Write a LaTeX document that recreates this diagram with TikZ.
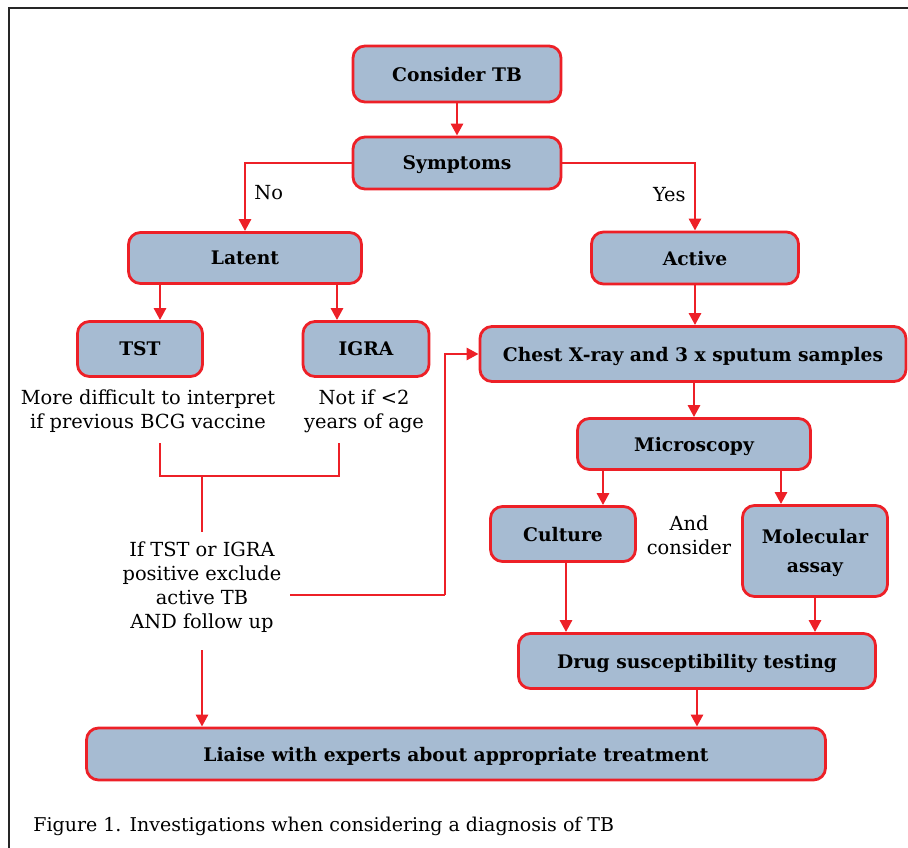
\documentclass[tikz,border=0pt]{standalone}
\usepackage{fontspec}
\setmainfont{DejaVu Serif}
\usepackage{xcolor}
\usepackage{tikz}
\usetikzlibrary{arrows.meta}

\definecolor{tbblue}{RGB}{166,187,210}
\definecolor{tbred}{RGB}{237,32,39}

\begin{document}
\begin{tikzpicture}[->,>={Triangle[length=12pt,width=12pt]},x=1pt,y=-1pt,
                    draw=tbred,line width=2.8pt]

                \tikzset{box/.style={draw=tbred, fill=tbblue, line width=2.8pt, rounded corners=12pt,
                                     inner sep=0pt, text depth=0pt, align=center,
                                     font=\bfseries\fontsize{18.7}{29}\selectfont}}
                \tikzset{note/.style={align=center, inner sep=2pt, font=\fontsize{19.4}{24}\selectfont}}

                \useasboundingbox (0,0) rectangle (908,848);
                \draw[-, draw=black!85, line width=2pt] (9,848) -- (9,8) -- (908,8);

                % boxes
                \node[box, minimum width=208pt, minimum height=56pt] (start) at (457,74) {Consider TB};
                \node[box, minimum width=208pt, minimum height=52pt] (symp) at (457,163) {Symptoms};
                \node[box, minimum width=233pt, minimum height=51pt] (latent) at (245,258) {Latent};
                \node[box, minimum width=207pt, minimum height=52pt] (active) at (695,258) {Active};
                \node[box, minimum width=125pt, minimum height=55pt] (tst) at (140,349) {TST};
                \node[box, minimum width=126pt, minimum height=55pt] (igra) at (366,349) {IGRA};
                \node[box, minimum width=426pt, minimum height=55pt] (xray) at (693,354) {Chest X-ray and 3 x sputum samples};
                \node[box, minimum width=233pt, minimum height=51pt] (micro) at (694,444) {Microscopy};
                \node[box, minimum width=145pt, minimum height=55pt] (culture) at (563,534) {Culture};
                \node[box, minimum width=145pt, minimum height=91pt] (molec) at (815,551) {Molecular\\assay};
                \node[box, minimum width=357pt, minimum height=55pt] (drug) at (697,661) {Drug susceptibility testing};
                \node[box, minimum width=739pt, minimum height=52pt] (liaise) at (456,754) {Liaise with experts about appropriate treatment};

                % notes
                \node[note] (tstnote) at (148,411) {More difficult to interpret\\if previous BCG vaccine};
                \node[note] (igranote) at (364,411) {Not if <2\\years of age};
                \node[note] (posnote) at (202,587) {If TST or IGRA\\positive exclude\\active TB\\AND follow up};
                \node[note] (andnote) at (689,535) {And\\consider};
                \node[anchor=west, inner sep=0pt, font=\fontsize{19}{20}\selectfont] (caption) at (32,826)
                     {Figure 1. Investigations when considering a diagnosis of TB};

                \coordinate (brl) at (160,443);
                \coordinate (brr) at (339,443);
                \coordinate (brm) at (202,476);
                \coordinate (bend) at (445,595);

                % connectors
                \draw (start) -- (symp);
                \draw (symp.west) -| node[pos=0.72, right=6pt, note] (no) {No} (latent.north);
                \draw (symp.east) -| node[pos=0.735, left=6pt, note] (yes) {Yes} (active.north);
                \draw ([xshift=-85pt]latent.south) -- ([xshift=20pt]tst.north);
                \draw ([xshift=92pt]latent.south) -- ([xshift=-29pt]igra.north);
                \draw[-] (brl) |- (brm) -| (brr);
                \draw[-] (brm) -- (brm |- 0,532);
                \draw[-] (290,595) -- (bend);
                \draw (bend) |- (xray.west);
                \draw (202,650) -- (202,0 |- liaise.north);
                \draw (active.south) -- (active.south |- xray.north);
                \draw (xray.south -| micro) -- (micro.north);
                \draw ([xshift=40pt]culture.north |- micro.south) -- ([xshift=40pt]culture.north);
                \draw ([xshift=-34pt]molec.north |- micro.south) -- ([xshift=-34pt]molec.north);
                \draw ([xshift=3pt]culture.south) -- ([xshift=3pt]culture.south |- drug.north);
                \draw (molec.south) -- (molec.south |- drug.north);
                \draw (drug.south) -- (drug.south |- liaise.north);
            \end{tikzpicture}
\end{document}
